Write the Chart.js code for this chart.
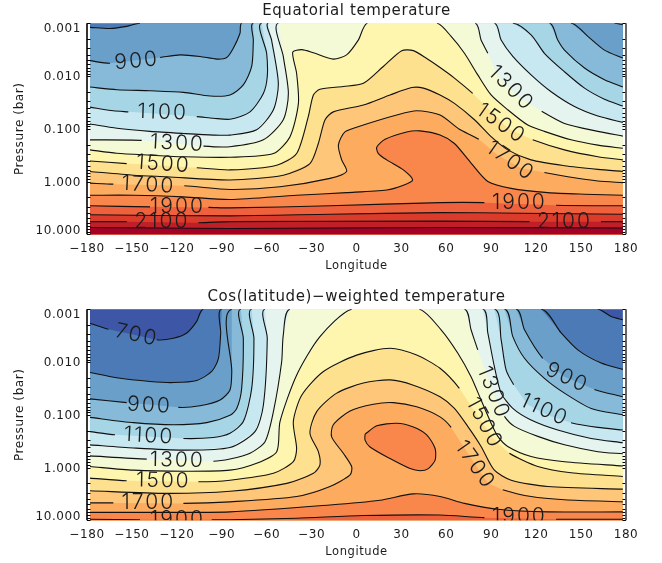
<!DOCTYPE html>
<html>
<head>
<meta charset="utf-8">
<title>Temperature maps</title>
<script src="https://cdn.jsdelivr.net/npm/chart.js@4"></script>
<style>
  html, body { margin: 0; padding: 0; background: #fff; }
  body { position: relative; width: 662px; height: 563px; overflow: hidden; }
  canvas { position: absolute; left: 0; }
  #eqChart { top: 0; }
  #cosChart { top: 286px; }
</style>
</head>
<body>
<canvas id="eqChart" width="662" height="277"></canvas>
<canvas id="cosChart" width="662" height="277"></canvas>
<script>
// ── Axis values ───────────────────────────────────────────────────────────────
const LON_TICKS = [-180, -150, -120, -90, -60, -30, 0, 30, 60, 90, 120, 150, 180];
const PRESSURE_TICKS = [0.001, 0.01, 0.1, 1, 10];

// ── Band colours: colour of the band from each level up to the next one ───────
const LEVELS = [600, 700, 800, 900, 1000, 1100, 1200, 1300, 1400, 1500, 1600, 1700, 1800, 1900, 2000, 2100, 2200];
const BAND_COLORS = ['#3d57a6', '#4c7ab6', '#699fc9', '#86bad8', '#a6d5e6', '#c7e7f1', '#e5f4ef', '#f4fad5',
  '#fef5ae', '#fee18e', '#fdc679', '#fdab5f', '#f9864a', '#ef613c', '#dc3b2b', '#c01f27', '#a50026'];

// Contours are [longitude, log10(pressure)]; a third item means no line is drawn to the next point
const G = 1;

// ── Equatorial temperature ────────────────────────────────────────────────────
const EQ_800 = [[-178,-2.92],[-164.6,-2.90],[-153.5,-2.94],[-144.6,-3,G],[172.3,-3],[177.9,-2.97]];
const EQ_900 = [[-178,-2.29],[-164.6,-2.24,G],[-131.2,-2.35],[-117.8,-2.40],[-104.5,-2.37],[-93.3,-2.32],[-86.7,-2.35],[-82.2,-2.53],[-77.8,-2.81],[-76.6,-3,G],
  [143.3,-3],[154.5,-2.75],[165.6,-2.49],[177.9,-2.34]];
const EQ_1000 = [[-178,-1.79],[-160,-1.74],[-138,-1.72],[-115.6,-1.69],[-97.8,-1.62],[-84.5,-1.64],[-75.6,-1.83],[-70,-2.18],[-68.9,-2.68],[-68.9,-3,G],
  [128.9,-3],[134.4,-2.68],[138.9,-2.49],[152.3,-2.15],[165.6,-1.93],[177.9,-1.79]];
const EQ_1100 = [[-178,-1.41],[-162.4,-1.34],[-152.4,-1.32,G],[-106.7,-1.23],[-95.6,-1.2],[-84.5,-1.18],[-71.1,-1.32],[-62.2,-1.67],[-59.6,-1.99],[-60,-2.43],[-63.3,-3,G],
  [104.4,-3],[116.6,-2.78],[125.5,-2.43],[138.9,-2.08],[152.3,-1.77],[165.6,-1.56],[177.9,-1.43]];
const EQ_1200 = [[-178,-1.09],[-160,-1.01],[-137.9,-.95],[-115.6,-.91],[-95.6,-.88],[-84.5,-.88],[-66.7,-.98],[-55.5,-1.36],[-52.2,-1.86],[-56.7,-2.68],[-58.9,-3,G],
  [92.1,-3],[96.6,-2.68],[104.4,-2.37],[116.6,-2.02],[130,-1.70],[145.6,-1.42],[161.2,-1.24],[177.9,-1.12]];
const EQ_1300 = [[-178,-.79],[-143.5,-.78,G],[-102.2,-.67],[-84.5,-.66],[-62.2,-.79],[-48.9,-1.17],[-45.5,-1.67],[-48.9,-2.37],[-52.2,-3,G],
  [79.2,-3],[83.2,-2.68],[87.7,-2.43,G],[94.4,-1.99,G],[107.7,-1.61,G],[123.7,-1.33],[138.9,-1.10],[161.2,-.95],[177.9,-.86]];
const EQ_1400 = [[-178,-.60],[-160.2,-.535],[-137.9,-.50],[-115.6,-.47],[-84.5,-.46],[-55.5,-.53],[-44.4,-.85],[-38.8,-1.48],[-40,-2.05],[-42.6,-2.45],[-36.6,-2.5],[-28.8,-2.44],[-15.5,-2.32],[-6.6,-2.40],[1.2,-2.68],[7.3,-3,G],
  [53.8,-3],[63.2,-2.75],[72.1,-2.43],[81,-2.02],[89.9,-1.64],[101,-1.36],[114.4,-1.07],[125.5,-.95],[143.3,-.79],[161.2,-.69],[177.9,-.63]];
const EQ_1500 = [[-178,-.39],[-153.5,-.34,G],[-106.7,-.26],[-84.5,-.22],[-53.3,-.31],[-40,-.53],[-32.2,-1.23],[-28.8,-1.64],[-24.4,-1.75],[-8.8,-1.80],[4.6,-1.86],[17.9,-2.18],[30.2,-2.48],[38,-2.48],[46.9,-2.33],[55.8,-2.16],
  [65.4,-1.96],[77.6,-1.67,G],[87.7,-1.39,G],[101,-1.01,G],[117.7,-.79],[138.9,-.60],[161.2,-.47],[177.9,-.41]];
const EQ_1600 = [[-178,-.19],[-149,-.12],[-126.7,-.09],[-84.5,-.03],[-48.9,-.12],[-31.1,-.34],[-25.5,-.72],[-21,-1.17],[-15.5,-1.32],[4.6,-1.45],[22.4,-1.64],[36.9,-1.78],[44.7,-1.77],[55.8,-1.64],
  [65.4,-1.48],[78.8,-1.17],[89.9,-.85],[101,-.6],[116.6,-.41],[138.9,-.30],[161.2,-.23],[177.9,-.19]];
const EQ_1700 = [[-178,.03],[-162.4,.05,G],[-115,.08],[-84.5,.15],[-51.1,.10],[-17.7,-.06],[-6.6,-.19],[-9.9,-.41],[-12.1,-.69],[-7.7,-.94],[4.6,-1.07],[26.9,-1.26],[40.2,-1.34],[55.8,-1.26],
  [68.7,-.99],[81.7,-.80,G],[94.4,-.5,G],[109.9,-.25,G],[125.5,-.17],[143.3,-.08],[161.2,-.01],[177.9,.02]];
const EQ_1800 = [[-178,.26],[-149,.26],[-115.6,.29],[-84.5,.34],[-40,.26],[-6.6,.21],[20.2,.16],[31.3,.07],[37.5,-.03],[31.3,-.22],[20.2,-.41],[14.6,-.53],[13.5,-.65],[19.1,-.80],[33.5,-.94],[42.4,-.96],[55.8,-.88],
  [65.4,-.72],[76.5,-.35],[87.7,0],[103.3,.13],[127.8,.21],[152.3,.24],[177.9,.26]];
const EQ_1900 = [[-178,.46],[-137.9,.48,G],[-98.9,.49],[-84.5,.50],[-17.7,.46],[55.8,.40],[85.4,.40,G],[133.3,.45],[177.9,.46]];
const EQ_2000 = [[-178,.63],[-84.5,.65],[-17.7,.62],[55.8,.59],[110,.6],[177.9,.62]];
const EQ_2100 = [[-178,.76],[-153.5,.76,G],[-105.6,.78],[-84.5,.76],[55.8,.75],[115.5,.76,G],[163.4,.76],[177.9,.76]];
const EQ_2200 = [[-178,.87],[-84.5,.89],[55.8,.87],[177.9,.88]];
const EQ_CONTOURS = [[800,EQ_800],[900,EQ_900],[1000,EQ_1000],[1100,EQ_1100],[1200,EQ_1200],[1300,EQ_1300],[1400,EQ_1400],
  [1500,EQ_1500],[1600,EQ_1600],[1700,EQ_1700],[1800,EQ_1800],[1900,EQ_1900],[2000,EQ_2000],[2100,EQ_2100],[2200,EQ_2200]];
// text, longitude, log10(pressure), rotation
const EQ_LABELS = [['900',-146.8,-2.285,-5],['1100',-129.4,-1.31,2],['1300',-119.6,-.725,3],['1500',-129,-.33,4],['1700',-139,.065,3],['1900',-119.6,.475,0],['2100',-130,.76,0],
  ['1300',103.3,-1.77,45],['1500',96.6,-1.1,35],['1700',102.8,-.39,35],['1900',108.8,.41,0],['2100',138.9,.76,0]];

// ── Cos(latitude)-weighted temperature ────────────────────────────────────────
const COS_700 = [[-178,-2.735],[-165.7,-2.62,G],[-133.4,-2.42],[-122.3,-2.45],[-113.4,-2.55],[-106.7,-2.77],[-102.3,-3,G],[161.2,-3],[170.1,-2.86],[177.9,-2.80]];
const COS_800 = [[-178,-1.80],[-160.2,-1.70],[-137.9,-1.63],[-122.3,-1.61],[-106.7,-1.65],[-96.7,-1.82],[-92.2,-2.07],[-90.7,-2.55],[-90,-3,G],
  [123.3,-3],[136.7,-2.55],[147.8,-2.23],[163.4,-1.98],[177.9,-1.86]];
const COS_900 = [[-178,-1.30],[-153.5,-1.23,G],[-119,-1.14],[-104.5,-1.17],[-91.1,-1.28],[-84.5,-1.47],[-83.3,-1.82],[-83.3,-3,G],
  [106.6,-3],[112.2,-2.61],[124.4,-2.07,G],[138.9,-1.72,G],[158.9,-1.48],[177.9,-1.34]];
const COS_1000 = [[-178,-.95],[-149,-.85],[-122.3,-.81],[-100,-.85],[-84.5,-.99],[-80,-1.12],[-76.7,-1.50],[-75.6,-2.45],[-77.2,-3,G],
  [98.8,-3],[104.4,-2.48],[112.2,-2.07],[125.5,-1.69],[138.9,-1.41],[156.7,-1.12],[177.9,-1.0]];
const COS_1100 = [[-178,-.68],[-161.3,-.62,G],[-115.6,-.55],[-95.6,-.57],[-84.5,-.65],[-75.6,-.87],[-70,-1.50],[-68.5,-2.45],[-70,-3,G],
  [92.1,-3],[96.6,-2.42],[99.9,-1.85],[105,-1.57,G],[114.4,-1.19,G],[127.8,-.99,G],[143.3,-.85],[161.2,-.76],[177.9,-.71]];
const COS_1200 = [[-178,-.43],[-149,-.37],[-115.6,-.33],[-84.5,-.38],[-67.8,-.68],[-62.2,-1.18],[-59.6,-2.45],[-61.1,-3,G],
  [84.3,-3],[87.7,-2.55],[92.1,-1.91],[96.6,-1.41],[104.4,-1.12],[116.6,-.90],[134.4,-.71],[156.7,-.55],[177.9,-.47]];
const COS_1300 = [[-178,-.22],[-140.1,-.16,G],[-95.6,-.12],[-84.5,-.16],[-71.1,-.27],[-61.1,-.49],[-55.5,-1.06],[-50,-2.0],[-48.9,-2.51],[-44.4,-3,G],
  [72.1,-3],[76.5,-2.61],[81,-2.23,G],[87.7,-1.69,G],[93.2,-1.28,G],[98.8,-.97],[105.5,-.78],[121.1,-.59],[138.9,-.43],[161.2,-.30],[177.9,-.26]];
const COS_1400 = [[-178,-.02],[-149,.05],[-115.6,.07],[-84.5,.05],[-66.7,-.08],[-53.3,-.30],[-51.1,-.87],[-40,-1.75],[-24.4,-2.48],[-3.2,-3,G],
  [42,-3],[56.5,-2.61],[67.6,-2.17],[76.5,-1.72],[83.2,-1.28],[89.9,-.84],[94.4,-.59],[101,-.40],[116.6,-.21],[138.9,-.11],[177.9,-.03]];
const COS_1500 = [[-178,.20],[-153.5,.25,G],[-105.6,.27],[-84.5,.24],[-55.5,.11],[-42.2,-.11],[-40,-.36],[-42.2,-.87],[-36.6,-1.37],[-22.1,-1.82],[.1,-2.13],[22.4,-2.26],[40.2,-2.13],[55.8,-1.88],
  [68.7,-1.50,G],[81,-.97,G],[92.1,-.52,G],[102.1,-.27],[121.1,-.02],[143.3,.10],[177.9,.17]];
const COS_1600 = [[-178,.44],[-126.7,.49],[-84.5,.45],[-46.6,.30],[-28.8,.11],[-24.4,-.05],[-25.5,-.30],[-31.1,-.65],[-26.6,-1.06],[-13.2,-1.41],[4.6,-1.60],[22.4,-1.66],[38,-1.56],[55.8,-1.34],
  [65.4,-1.12],[74.3,-.78],[83.2,-.40],[92.1,.05],[103.3,.24],[127.8,.36],[177.9,.41]];
const COS_1700 = [[-178,.67],[-162.4,.67,G],[-115.6,.68],[-84.5,.65],[-40,.55],[-17.7,.36],[-4.3,.14],[-3.2,-.015],[-8.8,-.27],[-16.6,-.58],[-15.5,-.81],[-4.3,-1.07],[11.3,-1.20],[24.6,-1.23],[40.2,-1.15],[55.8,-.96],
  [63.2,-.76,G],[74.3,-.27,G],[87.7,.30,G],[97.7,.42],[116.6,.55],[138.9,.61],[177.9,.65]];
const COS_1800 = [[-178,.85],[-149,.85],[-84.5,.84],[-17.7,.71],[15.7,.62],[38,.50],[55.8,.55],[72.1,.68],[94.4,.79],[127.8,.84],[177.9,.84]];
const COS_1800_ISLAND = [[5.7,-.63],[13.5,-.79],[26.9,-.84],[38,-.77],[46.9,-.62],[52.5,-.36],[52.5,-.14],[48,.02],[42.4,.06],[35.8,.02],[22.4,-.17],[9,-.39],[5.7,-.52],[5.7,-.63]];
const COS_1900 = [[-178,.98],[-144.6,.99,G],[-96.7,.99],[-84.5,.99],[-40,.96],[4.6,.91],[55.8,.90],[85.4,.95,G],[133.3,.98],[177.9,.98]];
const COS_CONTOURS = [[700,COS_700],[800,COS_800],[900,COS_900],[1000,COS_1000],[1100,COS_1100],[1200,COS_1200],[1300,COS_1300],[1400,COS_1400],
  [1500,COS_1500],[1600,COS_1600],[1700,COS_1700],[1800,COS_1800],[1800,COS_1800_ISLAND],[1900,COS_1900]];
const COS_LABELS = [['700',-146.8,-2.51,12],['900',-138.3,-1.18,3],['1100',-138.6,-.60,3],['1300',-119.6,-.14,1],['1500',-129,.25,1],['1700',-139,.665,0],['1900',-119.6,.98,0],
  ['900',140.7,-1.70,25],['1100',125.5,-1.09,25],['1300',91.5,-1.42,68],['1500',85.4,-.84,62],['1700',79.2,-.05,55],['1900',108.8,.93,0]];

// ── Look ──────────────────────────────────────────────────────────────────────
const FONT = "'DejaVu Sans', sans-serif";
const INK = '#1c1c1c';
Chart.defaults.font.family = FONT;
Chart.defaults.color = INK;

const colorFor = level => BAND_COLORS[LEVELS.indexOf(level)];

// ── Plugins ───────────────────────────────────────────────────────────────────
// Paints each level's warmer side over the previous one, so the bands stack up
const contourFill = {
    id: 'contourFill',
    beforeLayout(chart) { chart.ctx.letterSpacing = '0.6px'; },
    beforeDraw(chart) { chart.ctx.letterSpacing = '0.6px'; },
    beforeDatasetsDraw(chart) {
        const { ctx, chartArea: a, scales: { x } } = chart;
        ctx.save();
        ctx.fillStyle = chart.options.plugins.contourFill.base;
        const x0 = x.getPixelForValue(-178), x1 = x.getPixelForValue(177.9);
        ctx.fillRect(x0, a.top, x1 - x0, a.bottom - a.top);
        chart.data.datasets.forEach((ds, i) => {
            const pts = chart.getDatasetMeta(i).data;
            ctx.beginPath();
            pts.forEach((p, k) => k ? ctx.lineTo(p.x, p.y) : ctx.moveTo(p.x, p.y));
            if (!ds.island) {
                ctx.lineTo(pts[pts.length - 1].x, a.bottom);
                ctx.lineTo(pts[0].x, a.bottom);
            }
            ctx.closePath();
            ctx.fillStyle = ds.bandColor;
            ctx.fill();
        });
        ctx.restore();
    },
    afterDatasetsDraw(chart) {
        const { ctx, chartArea: a, scales: { x, y } } = chart;
        // contour labels, cut off at the plot edge
        ctx.save();
        ctx.beginPath();
        ctx.rect(a.left, a.top, a.right - a.left, a.bottom - a.top);
        ctx.clip();
        ctx.letterSpacing = '2px';
        ctx.font = "300 21px Inter, 'DejaVu Sans', sans-serif";
        ctx.fillStyle = INK;
        ctx.textAlign = 'center';
        ctx.textBaseline = 'middle';
        chart.options.plugins.contourFill.labels.forEach(([text, lon, logP, angle]) => {
            ctx.save();
            ctx.translate(x.getPixelForValue(lon), y.getPixelForValue(10 ** logP));
            ctx.rotate(angle * Math.PI / 180);
            ctx.fillText(text, 0, 0);
            ctx.restore();
        });
        ctx.restore();

        // side axes with log ticks pointing inward
        ctx.save();
        ctx.strokeStyle = '#000';
        ctx.lineWidth = 1;
        ctx.beginPath();
        PRESSURE_TICKS.forEach(major => {
            for (let m = 1; m <= 9; m++) {
                const v = major * m;
                if (v > 10.0001) break;
                const py = Math.round(y.getPixelForValue(v)) + 0.5;
                ctx.moveTo(a.left, py); ctx.lineTo(a.left + 3.5, py);
                ctx.moveTo(a.right, py); ctx.lineTo(a.right - 3.5, py);
            }
        });
        ctx.stroke();
        ctx.lineWidth = 1.6;
        ctx.beginPath();
        ctx.moveTo(a.left, a.top); ctx.lineTo(a.left, a.bottom);
        ctx.stroke();
        ctx.strokeStyle = '#555';
        ctx.lineWidth = 1.8;
        ctx.beginPath();
        ctx.moveTo(a.right, a.top); ctx.lineTo(a.right, a.bottom);
        ctx.stroke();
        ctx.restore();
    }
};

// first and last pressure labels sit inside the plot height, as two-line labels
function pressureLabel(v) {
    const s = Number(v).toFixed(3);
    if (v === PRESSURE_TICKS[0]) return ['', s];
    if (v === PRESSURE_TICKS[PRESSURE_TICKS.length - 1]) return [s, ''];
    return s;
}

// ── Charts ────────────────────────────────────────────────────────────────────
function makeChart(id, title, contours, labels, base) {
    const datasets = contours.map(([level, pts]) => ({
        data: pts.map(p => ({ x: p[0], y: 10 ** p[1] })),
        bandColor: colorFor(level),
        island: pts === COS_1800_ISLAND,
        showLine: true,
        borderColor: '#111',
        borderWidth: 1.1,
        pointRadius: 0,
        tension: 0.25,
        segment: { borderColor: c => pts[c.p0DataIndex][2] ? 'rgba(0,0,0,0)' : undefined },
    }));

    return new Chart(document.getElementById(id), {
        type: 'scatter',
        data: { datasets },
        plugins: [contourFill],
        options: {
            responsive: false,
            devicePixelRatio: 1,
            animation: false,
            events: [],
            layout: { padding: { right: 36, left: 0, top: 0, bottom: 0 } },
            plugins: {
                legend: { display: false },
                tooltip: { enabled: false },
                title: {
                    display: true, text: title, fullSize: false, color: INK,
                    font: { size: 15, weight: 'normal' },
                    padding: { top: 2.5, bottom: 2.7 },
                },
                contourFill: { base, labels },
            },
            scales: {
                x: {
                    type: 'linear', min: -180, max: 180,
                    afterBuildTicks: s => { s.ticks = LON_TICKS.map(value => ({ value })); },
                    afterFit: s => { s.height = 42.7; },
                    grid: { display: false, drawTicks: false },
                    border: { display: false },
                    ticks: {
                        padding: 7, maxRotation: 0, autoSkip: false, font: { size: 12 }, color: INK,
                        callback: v => String(v).replace('-', '\u2212'),
                    },
                    title: { display: true, text: 'Longitude', color: INK, font: { size: 11.5 }, padding: { top: 0, bottom: 4.3 } },
                },
                y: {
                    type: 'logarithmic', min: 0.001, max: 10, reverse: true,
                    afterBuildTicks: s => { s.ticks = PRESSURE_TICKS.map(value => ({ value })); },
                    afterFit: s => { s.width = 87; },
                    grid: { display: false, drawTicks: false },
                    border: { display: false },
                    ticks: {
                        padding: 6, autoSkip: false, labelOffset: 1, font: { size: 12, lineHeight: '9px' }, color: INK,
                        callback: pressureLabel,
                    },
                    title: { display: true, text: 'Pressure (bar)', color: INK, font: { size: 12 }, padding: { top: 12.8, bottom: 0 } },
                },
            },
        },
    });
}

makeChart('eqChart', 'Equatorial temperature', EQ_CONTOURS, EQ_LABELS, colorFor(700));
makeChart('cosChart', 'Cos(latitude)\u2212weighted temperature', COS_CONTOURS, COS_LABELS, colorFor(600));
</script>
</body>
</html>
